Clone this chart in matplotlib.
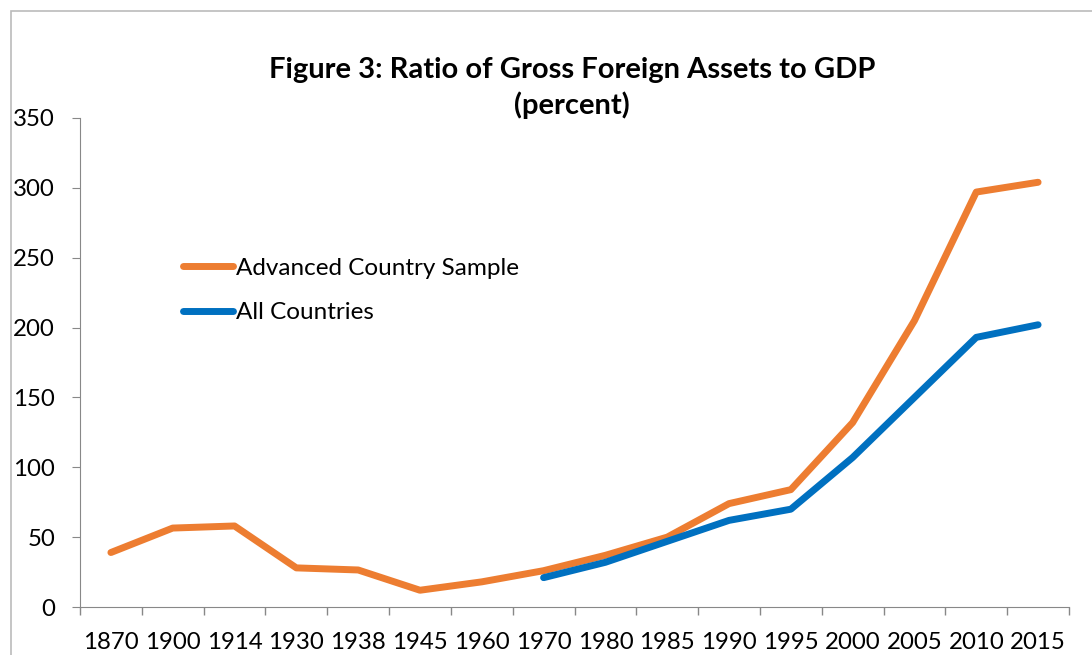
import matplotlib.pyplot as plt
import numpy as np
from matplotlib.patches import Rectangle

# categories and values
years = ['1870', '1900', '1914', '1930', '1938', '1945', '1960', '1970',
         '1980', '1985', '1990', '1995', '2000', '2005', '2010', '2015']
advanced = [39, 56.5, 58, 28, 26.5, 12, 18, 26, 37, 50, 74, 84, 132, 205, 297, 304]
all_countries = [None] * 7 + [21, 32, 47, 62, 70, 107, 150, 193, 202]

plt.rcParams['font.family'] = ['Lato', 'DejaVu Sans']

fig = plt.figure(figsize=(10.92, 6.55), dpi=100)
ax = fig.add_axes([80 / 1092, 48 / 655, 989 / 1092, 489 / 655])

x = np.arange(len(years))
ac = np.array([np.nan if v is None else v for v in all_countries], dtype=float)

ax.plot(x, advanced, color='#ED7D31', lw=5, solid_capstyle='round',
        solid_joinstyle='round', label='Advanced Country Sample')
ax.plot(x, ac, color='#0070C0', lw=5, solid_capstyle='round',
        solid_joinstyle='round', label='All Countries')

ax.set_xlim(-0.5, len(years) - 0.5)
ax.set_ylim(0, 350)
ax.set_yticks(np.arange(0, 351, 50))
ax.set_xticks(x)
ax.set_xticklabels(years)
ax.set_xticks(np.arange(-0.5, len(years), 1), minor=True)
ax.tick_params(axis='x', which='major', length=0, pad=18, labelsize=17.3)
ax.tick_params(axis='x', which='minor', length=6, color='#888888', width=1)
ax.tick_params(axis='y', length=6, color='#888888', labelsize=17.3, pad=12)

for s in ['top', 'right']:
    ax.spines[s].set_visible(False)
for s in ['left', 'bottom']:
    ax.spines[s].set_color('#888888')

fig.text(0.524, 0.893, 'Figure 3: Ratio of Gross Foreign Assets to GDP',
         ha='center', va='center', fontsize=21, fontweight='bold')
fig.text(0.524, 0.839, '(percent)', ha='center', va='center',
         fontsize=21, fontweight='bold')

ax.legend(loc='upper left', bbox_to_anchor=(0.082, 0.759), frameon=False,
          fontsize=17.5, handlelength=2.05, handletextpad=0.12, labelspacing=0.97)

# outer chart border
fig.patches.append(Rectangle((11 / 1092, -0.1), 1.2, (644 / 655) + 0.1,
                             transform=fig.transFigure, fill=False,
                             edgecolor='#bbbbbb', lw=1.2))

fig.savefig('out.png', dpi=100)
